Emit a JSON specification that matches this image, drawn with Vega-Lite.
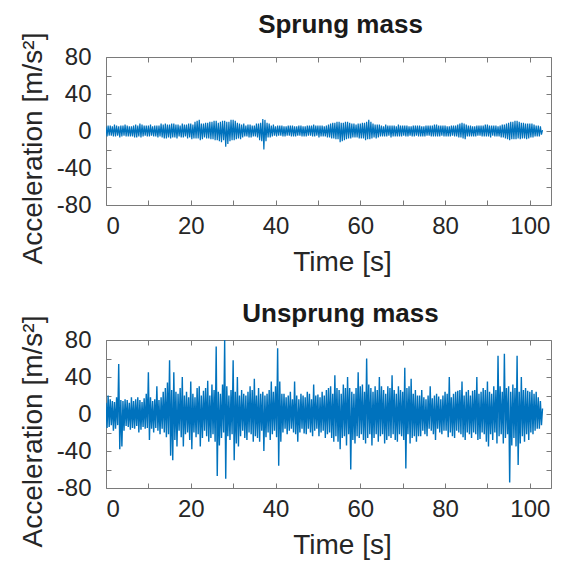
{
  "$schema": "https://vega.github.io/schema/vega-lite/v6.json",
  "background": "white",
  "padding": {"left": 18, "top": 11, "right": 0, "bottom": 0},
  "spacing": 23,
  "config": {
    "view": {"stroke": "#7a7a7a", "strokeWidth": 1},
    "axis": {"domain": false, "grid": false, "tickColor": "#7a7a7a", "tickSize": -5, "tickWidth": 1,
      "labelFont": "Liberation Sans", "labelFontSize": 24, "labelColor": "#262626",
      "titleFont": "Liberation Sans", "titleFontSize": 28, "titleFontWeight": "normal", "titleColor": "#262626"},
    "title": {"font": "Liberation Sans", "fontSize": 26, "fontWeight": "bold", "color": "#1a1a1a", "anchor": "middle", "baseline": "alphabetic"}
  },
  "datasets": {
    "sprung": [
{"t":0,"a":5},{"t":0.25,"a":-6},{"t":0.5,"a":6},{"t":0.75,"a":-5},
{"t":1,"a":6},{"t":1.25,"a":-5},{"t":1.5,"a":5},{"t":1.75,"a":-6},
{"t":2,"a":7},{"t":2.25,"a":-6},{"t":2.5,"a":6},{"t":2.75,"a":-5},
{"t":3,"a":5},{"t":3.25,"a":-7},{"t":3.5,"a":6},{"t":3.75,"a":-6},
{"t":4,"a":6},{"t":4.25,"a":-5},{"t":4.5,"a":7},{"t":4.75,"a":-6},
{"t":5,"a":6},{"t":5.25,"a":-6},{"t":5.5,"a":5},{"t":5.75,"a":-6},
{"t":6,"a":5},{"t":6.25,"a":-6},{"t":6.5,"a":6},{"t":6.75,"a":-7},
{"t":7,"a":7},{"t":7.25,"a":-7},{"t":7.5,"a":6},{"t":7.75,"a":-6},
{"t":8,"a":8},{"t":8.25,"a":-7},{"t":8.5,"a":7},{"t":8.75,"a":-6},
{"t":9,"a":6},{"t":9.25,"a":-5},{"t":9.5,"a":6},{"t":9.75,"a":-6},
{"t":10,"a":6},{"t":10.25,"a":-6},{"t":10.5,"a":7},{"t":10.75,"a":-5},
{"t":11,"a":5},{"t":11.25,"a":-6},{"t":11.5,"a":6},{"t":11.75,"a":-6},
{"t":12,"a":6},{"t":12.25,"a":-7},{"t":12.5,"a":6},{"t":12.75,"a":-6},
{"t":13,"a":8},{"t":13.25,"a":-7},{"t":13.5,"a":7},{"t":13.75,"a":-8},
{"t":14,"a":8},{"t":14.25,"a":-8},{"t":14.5,"a":7},{"t":14.75,"a":-7},
{"t":15,"a":7},{"t":15.25,"a":-8},{"t":15.5,"a":8},{"t":15.75,"a":-7},
{"t":16,"a":8},{"t":16.25,"a":-7},{"t":16.5,"a":7},{"t":16.75,"a":-8},
{"t":17,"a":7},{"t":17.25,"a":-6},{"t":17.5,"a":6},{"t":17.75,"a":-7},
{"t":18,"a":8},{"t":18.25,"a":-7},{"t":18.5,"a":7},{"t":18.75,"a":-6},
{"t":19,"a":7},{"t":19.25,"a":-8},{"t":19.5,"a":8},{"t":19.75,"a":-7},
{"t":20,"a":8},{"t":20.25,"a":-9},{"t":20.5,"a":7},{"t":20.75,"a":-8},
{"t":21,"a":10},{"t":21.25,"a":-8},{"t":21.5,"a":11},{"t":21.75,"a":-8},
{"t":22,"a":12},{"t":22.25,"a":-10},{"t":22.5,"a":8},{"t":22.75,"a":-9},
{"t":23,"a":8},{"t":23.25,"a":-7},{"t":23.5,"a":9},{"t":23.75,"a":-8},
{"t":24,"a":9},{"t":24.25,"a":-8},{"t":24.5,"a":10},{"t":24.75,"a":-9},
{"t":25,"a":10},{"t":25.25,"a":-9},{"t":25.5,"a":11},{"t":25.75,"a":-10},
{"t":26,"a":11},{"t":26.25,"a":-10},{"t":26.5,"a":9},{"t":26.75,"a":-11},
{"t":27,"a":10},{"t":27.25,"a":-12},{"t":27.5,"a":11},{"t":27.75,"a":-10},
{"t":28,"a":11},{"t":28.25,"a":-17},{"t":28.5,"a":10},{"t":28.75,"a":-14},
{"t":29,"a":10},{"t":29.25,"a":-11},{"t":29.5,"a":12},{"t":29.75,"a":-10},
{"t":30,"a":12},{"t":30.25,"a":-10},{"t":30.5,"a":11},{"t":30.75,"a":-9},
{"t":31,"a":9},{"t":31.25,"a":-8},{"t":31.5,"a":8},{"t":31.75,"a":-9},
{"t":32,"a":7},{"t":32.25,"a":-7},{"t":32.5,"a":8},{"t":32.75,"a":-6},
{"t":33,"a":6},{"t":33.25,"a":-6},{"t":33.5,"a":7},{"t":33.75,"a":-7},
{"t":34,"a":7},{"t":34.25,"a":-7},{"t":34.5,"a":6},{"t":34.75,"a":-6},
{"t":35,"a":6},{"t":35.25,"a":-6},{"t":35.5,"a":8},{"t":35.75,"a":-7},
{"t":36,"a":8},{"t":36.25,"a":-10},{"t":36.5,"a":9},{"t":36.75,"a":-11},
{"t":37,"a":13},{"t":37.25,"a":-20},{"t":37.5,"a":12},{"t":37.75,"a":-11},
{"t":38,"a":9},{"t":38.25,"a":-7},{"t":38.5,"a":8},{"t":38.75,"a":-7},
{"t":39,"a":6},{"t":39.25,"a":-6},{"t":39.5,"a":7},{"t":39.75,"a":-5},
{"t":40,"a":5},{"t":40.25,"a":-6},{"t":40.5,"a":6},{"t":40.75,"a":-5},
{"t":41,"a":6},{"t":41.25,"a":-5},{"t":41.5,"a":6},{"t":41.75,"a":-6},
{"t":42,"a":5},{"t":42.25,"a":-6},{"t":42.5,"a":5},{"t":42.75,"a":-5},
{"t":43,"a":6},{"t":43.25,"a":-5},{"t":43.5,"a":6},{"t":43.75,"a":-6},
{"t":44,"a":6},{"t":44.25,"a":-6},{"t":44.5,"a":5},{"t":44.75,"a":-6},
{"t":45,"a":5},{"t":45.25,"a":-5},{"t":45.5,"a":6},{"t":45.75,"a":-5},
{"t":46,"a":6},{"t":46.25,"a":-6},{"t":46.5,"a":5},{"t":46.75,"a":-6},
{"t":47,"a":5},{"t":47.25,"a":-6},{"t":47.5,"a":6},{"t":47.75,"a":-5},
{"t":48,"a":6},{"t":48.25,"a":-5},{"t":48.5,"a":6},{"t":48.75,"a":-6},
{"t":49,"a":7},{"t":49.25,"a":-6},{"t":49.5,"a":6},{"t":49.75,"a":-5},
{"t":50,"a":6},{"t":50.25,"a":-7},{"t":50.5,"a":6},{"t":50.75,"a":-6},
{"t":51,"a":6},{"t":51.25,"a":-6},{"t":51.5,"a":5},{"t":51.75,"a":-6},
{"t":52,"a":6},{"t":52.25,"a":-7},{"t":52.5,"a":7},{"t":52.75,"a":-7},
{"t":53,"a":8},{"t":53.25,"a":-8},{"t":53.5,"a":9},{"t":53.75,"a":-8},
{"t":54,"a":9},{"t":54.25,"a":-9},{"t":54.5,"a":10},{"t":54.75,"a":-9},
{"t":55,"a":10},{"t":55.25,"a":-12},{"t":55.5,"a":9},{"t":55.75,"a":-11},
{"t":56,"a":9},{"t":56.25,"a":-10},{"t":56.5,"a":10},{"t":56.75,"a":-9},
{"t":57,"a":10},{"t":57.25,"a":-8},{"t":57.5,"a":9},{"t":57.75,"a":-8},
{"t":58,"a":8},{"t":58.25,"a":-7},{"t":58.5,"a":8},{"t":58.75,"a":-7},
{"t":59,"a":7},{"t":59.25,"a":-7},{"t":59.5,"a":8},{"t":59.75,"a":-8},
{"t":60,"a":8},{"t":60.25,"a":-8},{"t":60.5,"a":9},{"t":60.75,"a":-8},
{"t":61,"a":9},{"t":61.25,"a":-10},{"t":61.5,"a":10},{"t":61.75,"a":-9},
{"t":62,"a":12},{"t":62.25,"a":-9},{"t":62.5,"a":10},{"t":62.75,"a":-8},
{"t":63,"a":8},{"t":63.25,"a":-7},{"t":63.5,"a":7},{"t":63.75,"a":-8},
{"t":64,"a":7},{"t":64.25,"a":-7},{"t":64.5,"a":7},{"t":64.75,"a":-6},
{"t":65,"a":6},{"t":65.25,"a":-6},{"t":65.5,"a":5},{"t":65.75,"a":-6},
{"t":66,"a":7},{"t":66.25,"a":-6},{"t":66.5,"a":6},{"t":66.75,"a":-5},
{"t":67,"a":6},{"t":67.25,"a":-7},{"t":67.5,"a":6},{"t":67.75,"a":-6},
{"t":68,"a":6},{"t":68.25,"a":-6},{"t":68.5,"a":5},{"t":68.75,"a":-6},
{"t":69,"a":7},{"t":69.25,"a":-6},{"t":69.5,"a":6},{"t":69.75,"a":-6},
{"t":70,"a":6},{"t":70.25,"a":-5},{"t":70.5,"a":6},{"t":70.75,"a":-6},
{"t":71,"a":6},{"t":71.25,"a":-6},{"t":71.5,"a":5},{"t":71.75,"a":-5},
{"t":72,"a":5},{"t":72.25,"a":-6},{"t":72.5,"a":6},{"t":72.75,"a":-6},
{"t":73,"a":6},{"t":73.25,"a":-5},{"t":73.5,"a":6},{"t":73.75,"a":-6},
{"t":74,"a":6},{"t":74.25,"a":-6},{"t":74.5,"a":5},{"t":74.75,"a":-6},
{"t":75,"a":5},{"t":75.25,"a":-6},{"t":75.5,"a":6},{"t":75.75,"a":-5},
{"t":76,"a":6},{"t":76.25,"a":-5},{"t":76.5,"a":6},{"t":76.75,"a":-6},
{"t":77,"a":6},{"t":77.25,"a":-6},{"t":77.5,"a":7},{"t":77.75,"a":-6},
{"t":78,"a":7},{"t":78.25,"a":-6},{"t":78.5,"a":6},{"t":78.75,"a":-6},
{"t":79,"a":6},{"t":79.25,"a":-5},{"t":79.5,"a":6},{"t":79.75,"a":-6},
{"t":80,"a":6},{"t":80.25,"a":-6},{"t":80.5,"a":5},{"t":80.75,"a":-6},
{"t":81,"a":5},{"t":81.25,"a":-6},{"t":81.5,"a":6},{"t":81.75,"a":-5},
{"t":82,"a":6},{"t":82.25,"a":-6},{"t":82.5,"a":6},{"t":82.75,"a":-6},
{"t":83,"a":7},{"t":83.25,"a":-7},{"t":83.5,"a":8},{"t":83.75,"a":-7},
{"t":84,"a":9},{"t":84.25,"a":-8},{"t":84.5,"a":8},{"t":84.75,"a":-9},
{"t":85,"a":7},{"t":85.25,"a":-6},{"t":85.5,"a":6},{"t":85.75,"a":-6},
{"t":86,"a":6},{"t":86.25,"a":-6},{"t":86.5,"a":5},{"t":86.75,"a":-6},
{"t":87,"a":5},{"t":87.25,"a":-6},{"t":87.5,"a":6},{"t":87.75,"a":-5},
{"t":88,"a":6},{"t":88.25,"a":-5},{"t":88.5,"a":6},{"t":88.75,"a":-6},
{"t":89,"a":6},{"t":89.25,"a":-6},{"t":89.5,"a":7},{"t":89.75,"a":-6},
{"t":90,"a":7},{"t":90.25,"a":-6},{"t":90.5,"a":6},{"t":90.75,"a":-7},
{"t":91,"a":6},{"t":91.25,"a":-5},{"t":91.5,"a":6},{"t":91.75,"a":-6},
{"t":92,"a":6},{"t":92.25,"a":-6},{"t":92.5,"a":5},{"t":92.75,"a":-6},
{"t":93,"a":6},{"t":93.25,"a":-7},{"t":93.5,"a":7},{"t":93.75,"a":-7},
{"t":94,"a":7},{"t":94.25,"a":-8},{"t":94.5,"a":8},{"t":94.75,"a":-9},
{"t":95,"a":9},{"t":95.25,"a":-10},{"t":95.5,"a":10},{"t":95.75,"a":-9},
{"t":96,"a":10},{"t":96.25,"a":-9},{"t":96.5,"a":11},{"t":96.75,"a":-9},
{"t":97,"a":11},{"t":97.25,"a":-8},{"t":97.5,"a":10},{"t":97.75,"a":-9},
{"t":98,"a":9},{"t":98.25,"a":-8},{"t":98.5,"a":9},{"t":98.75,"a":-8},
{"t":99,"a":8},{"t":99.25,"a":-9},{"t":99.5,"a":8},{"t":99.75,"a":-8},
{"t":100,"a":8},{"t":100.25,"a":-7},{"t":100.5,"a":8},{"t":100.75,"a":-7},
{"t":101,"a":7},{"t":101.25,"a":-6},{"t":101.5,"a":6},{"t":101.75,"a":-6},
{"t":102,"a":6},{"t":102.25,"a":-6},{"t":102.5,"a":5},{"t":102.75,"a":-4},
{"t":103,"a":1}
    ],
    "unsprung": [
{"t":0,"a":12},{"t":0.25,"a":-15},{"t":0.5,"a":20},{"t":0.75,"a":-14},
{"t":1,"a":16},{"t":1.25,"a":-12},{"t":1.5,"a":14},{"t":1.75,"a":-18},
{"t":2,"a":13},{"t":2.25,"a":-16},{"t":2.5,"a":18},{"t":2.75,"a":-12},
{"t":3,"a":54},{"t":3.25,"a":-38},{"t":3.5,"a":15},{"t":3.75,"a":-35},
{"t":4,"a":14},{"t":4.25,"a":-18},{"t":4.5,"a":16},{"t":4.75,"a":-13},
{"t":5,"a":15},{"t":5.25,"a":-14},{"t":5.5,"a":12},{"t":5.75,"a":-17},
{"t":6,"a":18},{"t":6.25,"a":-15},{"t":6.5,"a":14},{"t":6.75,"a":-16},
{"t":7,"a":16},{"t":7.25,"a":-13},{"t":7.5,"a":18},{"t":7.75,"a":-20},
{"t":8,"a":15},{"t":8.25,"a":-17},{"t":8.5,"a":13},{"t":8.75,"a":-14},
{"t":9,"a":17},{"t":9.25,"a":-16},{"t":9.5,"a":22},{"t":9.75,"a":-15},
{"t":10,"a":45},{"t":10.25,"a":-28},{"t":10.5,"a":18},{"t":10.75,"a":-16},
{"t":11,"a":14},{"t":11.25,"a":-20},{"t":11.5,"a":16},{"t":11.75,"a":-15},
{"t":12,"a":30},{"t":12.25,"a":-18},{"t":12.5,"a":15},{"t":12.75,"a":-22},
{"t":13,"a":18},{"t":13.25,"a":-16},{"t":13.5,"a":24},{"t":13.75,"a":-20},
{"t":14,"a":28},{"t":14.25,"a":-25},{"t":14.5,"a":34},{"t":14.75,"a":-22},
{"t":15,"a":58},{"t":15.25,"a":-45},{"t":15.5,"a":26},{"t":15.75,"a":-50},
{"t":16,"a":45},{"t":16.25,"a":-28},{"t":16.5,"a":24},{"t":16.75,"a":-35},
{"t":17,"a":22},{"t":17.25,"a":-18},{"t":17.5,"a":28},{"t":17.75,"a":-25},
{"t":18,"a":40},{"t":18.25,"a":-35},{"t":18.5,"a":20},{"t":18.75,"a":-22},
{"t":19,"a":24},{"t":19.25,"a":-20},{"t":19.5,"a":18},{"t":19.75,"a":-28},
{"t":20,"a":35},{"t":20.25,"a":-38},{"t":20.5,"a":22},{"t":20.75,"a":-20},
{"t":21,"a":18},{"t":21.25,"a":-25},{"t":21.5,"a":28},{"t":21.75,"a":-22},
{"t":22,"a":30},{"t":22.25,"a":-35},{"t":22.5,"a":20},{"t":22.75,"a":-26},
{"t":23,"a":25},{"t":23.25,"a":-18},{"t":23.5,"a":28},{"t":23.75,"a":-24},
{"t":24,"a":36},{"t":24.25,"a":-30},{"t":24.5,"a":20},{"t":24.75,"a":-26},
{"t":25,"a":32},{"t":25.25,"a":-22},{"t":25.5,"a":26},{"t":25.75,"a":-30},
{"t":26,"a":73},{"t":26.25,"a":-67},{"t":26.5,"a":24},{"t":26.75,"a":-34},
{"t":27,"a":22},{"t":27.25,"a":-26},{"t":27.5,"a":32},{"t":27.75,"a":-20},
{"t":28,"a":80},{"t":28.25,"a":-70},{"t":28.5,"a":30},{"t":28.75,"a":-24},
{"t":29,"a":20},{"t":29.25,"a":-28},{"t":29.5,"a":26},{"t":29.75,"a":-22},
{"t":30,"a":58},{"t":30.25,"a":-50},{"t":30.5,"a":24},{"t":30.75,"a":-32},
{"t":31,"a":40},{"t":31.25,"a":-35},{"t":31.5,"a":20},{"t":31.75,"a":-24},
{"t":32,"a":26},{"t":32.25,"a":-18},{"t":32.5,"a":22},{"t":32.75,"a":-26},
{"t":33,"a":20},{"t":33.25,"a":-28},{"t":33.5,"a":24},{"t":33.75,"a":-20},
{"t":34,"a":30},{"t":34.25,"a":-22},{"t":34.5,"a":26},{"t":34.75,"a":-30},
{"t":35,"a":38},{"t":35.25,"a":-24},{"t":35.5,"a":20},{"t":35.75,"a":-26},
{"t":36,"a":28},{"t":36.25,"a":-30},{"t":36.5,"a":22},{"t":36.75,"a":-18},
{"t":37,"a":24},{"t":37.25,"a":-40},{"t":37.5,"a":20},{"t":37.75,"a":-25},
{"t":38,"a":22},{"t":38.25,"a":-20},{"t":38.5,"a":26},{"t":38.75,"a":-28},
{"t":39,"a":35},{"t":39.25,"a":-22},{"t":39.5,"a":24},{"t":39.75,"a":-18},
{"t":40,"a":30},{"t":40.25,"a":-25},{"t":40.5,"a":71},{"t":40.75,"a":-56},
{"t":41,"a":35},{"t":41.25,"a":-30},{"t":41.5,"a":22},{"t":41.75,"a":-20},
{"t":42,"a":22},{"t":42.25,"a":-16},{"t":42.5,"a":18},{"t":42.75,"a":-22},
{"t":43,"a":20},{"t":43.25,"a":-18},{"t":43.5,"a":24},{"t":43.75,"a":-16},
{"t":44,"a":16},{"t":44.25,"a":-20},{"t":44.5,"a":35},{"t":44.75,"a":-22},
{"t":45,"a":20},{"t":45.25,"a":-30},{"t":45.5,"a":16},{"t":45.75,"a":-20},
{"t":46,"a":22},{"t":46.25,"a":-16},{"t":46.5,"a":20},{"t":46.75,"a":-21},
{"t":47,"a":18},{"t":47.25,"a":-22},{"t":47.5,"a":24},{"t":47.75,"a":-16},
{"t":48,"a":22},{"t":48.25,"a":-20},{"t":48.5,"a":16},{"t":48.75,"a":-24},
{"t":49,"a":32},{"t":49.25,"a":-18},{"t":49.5,"a":20},{"t":49.75,"a":-16},
{"t":50,"a":21},{"t":50.25,"a":-24},{"t":50.5,"a":18},{"t":50.75,"a":-20},
{"t":51,"a":24},{"t":51.25,"a":-18},{"t":51.5,"a":20},{"t":51.75,"a":-26},
{"t":52,"a":26},{"t":52.25,"a":-22},{"t":52.5,"a":28},{"t":52.75,"a":-20},
{"t":53,"a":30},{"t":53.25,"a":-26},{"t":53.5,"a":22},{"t":53.75,"a":-30},
{"t":54,"a":42},{"t":54.25,"a":-24},{"t":54.5,"a":28},{"t":54.75,"a":-30},
{"t":55,"a":26},{"t":55.25,"a":-38},{"t":55.5,"a":22},{"t":55.75,"a":-26},
{"t":56,"a":32},{"t":56.25,"a":-24},{"t":56.5,"a":28},{"t":56.75,"a":-34},
{"t":57,"a":40},{"t":57.25,"a":-22},{"t":57.5,"a":28},{"t":57.75,"a":-60},
{"t":58,"a":24},{"t":58.25,"a":-28},{"t":58.5,"a":22},{"t":58.75,"a":-32},
{"t":59,"a":28},{"t":59.25,"a":-24},{"t":59.5,"a":45},{"t":59.75,"a":-26},
{"t":60,"a":30},{"t":60.25,"a":-22},{"t":60.5,"a":32},{"t":60.75,"a":-28},
{"t":61,"a":24},{"t":61.25,"a":-32},{"t":61.5,"a":60},{"t":61.75,"a":-26},
{"t":62,"a":32},{"t":62.25,"a":-22},{"t":62.5,"a":28},{"t":62.75,"a":-34},
{"t":63,"a":24},{"t":63.25,"a":-26},{"t":63.5,"a":30},{"t":63.75,"a":-22},
{"t":64,"a":26},{"t":64.25,"a":-30},{"t":64.5,"a":40},{"t":64.75,"a":-24},
{"t":65,"a":30},{"t":65.25,"a":-22},{"t":65.5,"a":26},{"t":65.75,"a":-32},
{"t":66,"a":22},{"t":66.25,"a":-28},{"t":66.5,"a":30},{"t":66.75,"a":-24},
{"t":67,"a":28},{"t":67.25,"a":-26},{"t":67.5,"a":42},{"t":67.75,"a":-22},
{"t":68,"a":26},{"t":68.25,"a":-28},{"t":68.5,"a":22},{"t":68.75,"a":-30},
{"t":69,"a":30},{"t":69.25,"a":-22},{"t":69.5,"a":26},{"t":69.75,"a":-24},
{"t":70,"a":24},{"t":70.25,"a":-28},{"t":70.5,"a":50},{"t":70.75,"a":-59},
{"t":71,"a":28},{"t":71.25,"a":-22},{"t":71.5,"a":30},{"t":71.75,"a":-32},
{"t":72,"a":38},{"t":72.25,"a":-26},{"t":72.5,"a":22},{"t":72.75,"a":-24},
{"t":73,"a":26},{"t":73.25,"a":-30},{"t":73.5,"a":20},{"t":73.75,"a":-24},
{"t":74,"a":20},{"t":74.25,"a":-24},{"t":74.5,"a":26},{"t":74.75,"a":-18},
{"t":75,"a":18},{"t":75.25,"a":-22},{"t":75.5,"a":16},{"t":75.75,"a":-24},
{"t":76,"a":20},{"t":76.25,"a":-16},{"t":76.5,"a":30},{"t":76.75,"a":-18},
{"t":77,"a":17},{"t":77.25,"a":-22},{"t":77.5,"a":20},{"t":77.75,"a":-28},
{"t":78,"a":22},{"t":78.25,"a":-16},{"t":78.5,"a":19},{"t":78.75,"a":-20},
{"t":79,"a":16},{"t":79.25,"a":-22},{"t":79.5,"a":20},{"t":79.75,"a":-18},
{"t":80,"a":24},{"t":80.25,"a":-18},{"t":80.5,"a":22},{"t":80.75,"a":-25},
{"t":81,"a":40},{"t":81.25,"a":-20},{"t":81.5,"a":18},{"t":81.75,"a":-24},
{"t":82,"a":22},{"t":82.25,"a":-26},{"t":82.5,"a":24},{"t":82.75,"a":-18},
{"t":83,"a":25},{"t":83.25,"a":-20},{"t":83.5,"a":26},{"t":83.75,"a":-22},
{"t":84,"a":35},{"t":84.25,"a":-25},{"t":84.5,"a":20},{"t":84.75,"a":-28},
{"t":85,"a":24},{"t":85.25,"a":-20},{"t":85.5,"a":26},{"t":85.75,"a":-22},
{"t":86,"a":20},{"t":86.25,"a":-26},{"t":86.5,"a":25},{"t":86.75,"a":-20},
{"t":87,"a":26},{"t":87.25,"a":-22},{"t":87.5,"a":40},{"t":87.75,"a":-28},
{"t":88,"a":22},{"t":88.25,"a":-27},{"t":88.5,"a":24},{"t":88.75,"a":-20},
{"t":89,"a":28},{"t":89.25,"a":-22},{"t":89.5,"a":26},{"t":89.75,"a":-30},
{"t":90,"a":35},{"t":90.25,"a":-35},{"t":90.5,"a":24},{"t":90.75,"a":-22},
{"t":91,"a":22},{"t":91.25,"a":-28},{"t":91.5,"a":30},{"t":91.75,"a":-20},
{"t":92,"a":26},{"t":92.25,"a":-32},{"t":92.5,"a":63},{"t":92.75,"a":-24},
{"t":93,"a":30},{"t":93.25,"a":-22},{"t":93.5,"a":24},{"t":93.75,"a":-32},
{"t":94,"a":65},{"t":94.25,"a":-26},{"t":94.5,"a":28},{"t":94.75,"a":-22},
{"t":95,"a":30},{"t":95.25,"a":-74},{"t":95.5,"a":24},{"t":95.75,"a":-34},
{"t":96,"a":32},{"t":96.25,"a":-26},{"t":96.5,"a":28},{"t":96.75,"a":-35},
{"t":97,"a":63},{"t":97.25,"a":-55},{"t":97.5,"a":24},{"t":97.75,"a":-32},
{"t":98,"a":40},{"t":98.25,"a":-24},{"t":98.5,"a":26},{"t":98.75,"a":-30},
{"t":99,"a":28},{"t":99.25,"a":-22},{"t":99.5,"a":25},{"t":99.75,"a":-28},
{"t":100,"a":24},{"t":100.25,"a":-20},{"t":100.5,"a":26},{"t":100.75,"a":-22},
{"t":101,"a":22},{"t":101.25,"a":-18},{"t":101.5,"a":24},{"t":101.75,"a":-16},
{"t":102,"a":18},{"t":102.25,"a":-16},{"t":102.5,"a":14},{"t":102.75,"a":-12},
{"t":103,"a":6}
    ]
  },
  "vconcat": [
    {
      "width": 445, "height": 148,
      "title": {"text": "Sprung mass", "offset": -6, "dx": 12},
      "layer": [
        {
          "data": {"name": "sprung"},
          "mark": {"type": "line", "color": "#0072BD", "strokeWidth": 1.2, "clip": true},
          "encoding": {
            "x": {"field": "t", "type": "quantitative", "scale": {"domain": [0, 105], "nice": false, "zero": false},
              "axis": {"orient": "bottom", "values": [0,10,20,30,40,50,60,70,80,90,100], "labelExpr": "datum.value % 20 == 0 ? datum.label : ''", "labelPadding": 14, "title": "Time [s]", "titleX": 236, "titleY": 65, "titleBaseline": "alphabetic", "titleAlign": "center"}},
            "y": {"field": "a", "type": "quantitative", "scale": {"domain": [-80, 80], "nice": false},
              "axis": {"orient": "left", "values": [-80,-60,-40,-20,0,20,40,60,80], "labelExpr": "datum.value % 40 == 0 ? (datum.value < 0 ? '-' + abs(datum.value) : '' + datum.value) : ''", "labelPadding": 20, "title": "Acceleration [m/s²]", "titleX": -65, "titleY": 91, "titleBaseline": "alphabetic", "titleAlign": "center", "titleAngle": -90}}
          }
        },
        {
          "data": {"values": [{"t": 0, "a": 0}]},
          "mark": {"type": "point", "opacity": 0},
          "encoding": {
            "x": {"field": "t", "type": "quantitative", "axis": {"orient": "top", "values": [0,10,20,30,40,50,60,70,80,90,100], "labels": false, "title": null}},
            "y": {"field": "a", "type": "quantitative", "axis": {"orient": "right", "values": [-80,-60,-40,-20,0,20,40,60,80], "labels": false, "title": null}}
          }
        }
      ],
      "resolve": {"axis": {"x": "independent", "y": "independent"}}
    },
    {
      "width": 445, "height": 148,
      "title": {"text": "Unsprung mass", "offset": -12, "dx": 12},
      "layer": [
        {
          "data": {"name": "unsprung"},
          "mark": {"type": "line", "color": "#0072BD", "strokeWidth": 1.4, "clip": true},
          "encoding": {
            "x": {"field": "t", "type": "quantitative", "scale": {"domain": [0, 105], "nice": false, "zero": false},
              "axis": {"orient": "bottom", "values": [0,10,20,30,40,50,60,70,80,90,100], "labelExpr": "datum.value % 20 == 0 ? datum.label : ''", "labelPadding": 14, "title": "Time [s]", "titleX": 236, "titleY": 65, "titleBaseline": "alphabetic", "titleAlign": "center"}},
            "y": {"field": "a", "type": "quantitative", "scale": {"domain": [-80, 80], "nice": false},
              "axis": {"orient": "left", "values": [-80,-60,-40,-20,0,20,40,60,80], "labelExpr": "datum.value % 40 == 0 ? (datum.value < 0 ? '-' + abs(datum.value) : '' + datum.value) : ''", "labelPadding": 20, "title": "Acceleration [m/s²]", "titleX": -65, "titleY": 91, "titleBaseline": "alphabetic", "titleAlign": "center", "titleAngle": -90}}
          }
        },
        {
          "data": {"values": [{"t": 0, "a": 0}]},
          "mark": {"type": "point", "opacity": 0},
          "encoding": {
            "x": {"field": "t", "type": "quantitative", "axis": {"orient": "top", "values": [0,10,20,30,40,50,60,70,80,90,100], "labels": false, "title": null}},
            "y": {"field": "a", "type": "quantitative", "axis": {"orient": "right", "values": [-80,-60,-40,-20,0,20,40,60,80], "labels": false, "title": null}}
          }
        }
      ],
      "resolve": {"axis": {"x": "independent", "y": "independent"}}
    }
  ]
}
